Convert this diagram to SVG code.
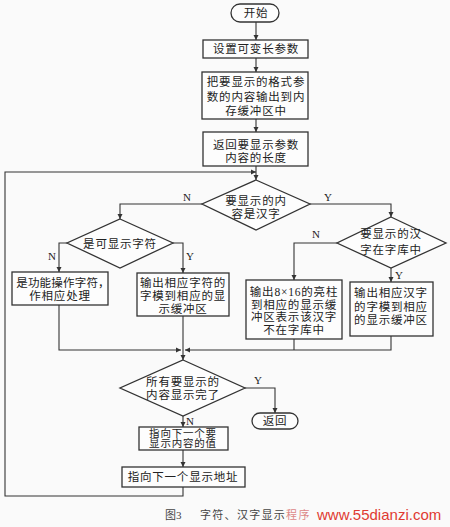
<svg xmlns="http://www.w3.org/2000/svg" width="450" height="527" viewBox="0 0 450 527">
<defs>
<marker id="ah" markerWidth="6" markerHeight="6" refX="5" refY="3" orient="auto" markerUnits="userSpaceOnUse">
<path d="M0,0.5 L5,3 L0,5.5 Z" fill="#333"/>
</marker>
<style>
.s{fill:#fdfdfd;stroke:#333;stroke-width:1.3}
.t{font-family:"Liberation Serif","Noto Sans CJK SC",serif;font-size:11.5px;fill:#222;text-anchor:middle;letter-spacing:0.8px}
.l{font-family:"Liberation Serif",serif;font-size:11px;fill:#222}
.c{fill:none;stroke:#333;stroke-width:1.1}
</style>
</defs>
<rect width="450" height="527" fill="#fafafa"/>
<g id="start"><rect class="s" x="231" y="4" width="48" height="18" rx="9"/><text class="t" x="256" y="17">开始</text></g>
<g id="setparam"><rect class="s" x="203" y="40" width="105" height="18"/><text class="t" x="256" y="53">设置可变长参数</text></g>
<g id="output"><rect class="s" x="202" y="72" width="106" height="47"/><text class="t" x="256" y="86">把要显示的格式参</text><text class="t" x="256" y="101">数的内容输出到内</text><text class="t" x="256" y="115">存缓冲区中</text></g>
<g id="retlen"><rect class="s" x="203" y="132" width="105" height="34"/><text class="t" x="256" y="149">返回要显示参数</text><text class="t" x="256" y="162">内容的长度</text></g>
<g id="d1"><polygon class="s" points="256,180 310,204 256,230 202,204"/><text class="t" x="256" y="205">要显示的内</text><text class="t" x="256" y="218">容是汉字</text></g>
<g id="d2"><polygon class="s" points="120,219 173,243 120,268 67,243"/><text class="t" x="120" y="248">是可显示字符</text></g>
<g id="d3"><polygon class="s" points="391,217 446,243 391,268 337,243"/><text class="t" x="391" y="238">要显示的汉</text><text class="t" x="391" y="254">字在字库中</text></g>
<g id="func"><rect class="s" x="12" y="272" width="96" height="33"/><text class="t" x="63" y="287" style="letter-spacing:0.2px">是功能操作字符，</text><text class="t" x="60" y="300">作相应处理</text></g>
<g id="charout"><rect class="s" x="137" y="273" width="92" height="43"/><text class="t" x="183" y="287">输出相应字符的</text><text class="t" x="183" y="300">字模到相应的显</text><text class="t" x="183" y="313">示缓冲区</text></g>
<g id="bar"><rect class="s" x="246" y="280" width="96" height="59"/><text class="t" x="294" y="296">输出8×16的亮柱</text><text class="t" x="294" y="309">到相应的显示缓</text><text class="t" x="294" y="321">冲区表示该汉字</text><text class="t" x="294" y="334">不在字库中</text></g>
<g id="hzout"><rect class="s" x="350" y="282" width="83" height="54"/><text class="t" x="391" y="297">输出相应汉字</text><text class="t" x="391" y="311">的字模到相应</text><text class="t" x="391" y="324">的显示缓冲区</text></g>
<g id="d4"><polygon class="s" points="183,360 245,388 183,416 120,388"/><text class="t" x="183" y="386">所有要显示的</text><text class="t" x="183" y="399">内容显示完了</text></g>
<g id="ret"><rect class="s" x="252" y="413" width="46" height="16" rx="8"/><text class="t" x="275" y="425">返回</text></g>
<g id="nextval"><rect class="s" x="139" y="427" width="89" height="23"/><text class="t" x="183" y="437" style="font-size:10.5px">指向下一个要</text><text class="t" x="183" y="447" style="font-size:10.5px">显示内容的值</text></g>
<g id="nextaddr"><rect class="s" x="122" y="467" width="123" height="20"/><text class="t" x="183" y="481">指向下一个显示地址</text></g>
<g id="connectors">
<path class="c" d="M256,22 V40" marker-end="url(#ah)"/>
<path class="c" d="M256,58 V72" marker-end="url(#ah)"/>
<path class="c" d="M256,119 V132" marker-end="url(#ah)"/>
<path class="c" d="M256,166 V180" marker-end="url(#ah)"/>
<path class="c" d="M202,204 H120 V219" marker-end="url(#ah)"/>
<path class="c" d="M310,204 H391 V217" marker-end="url(#ah)"/>
<path class="c" d="M67,243 H59 V272" marker-end="url(#ah)"/>
<path class="c" d="M173,243 H183 V273" marker-end="url(#ah)"/>
<path class="c" d="M337,243 H294 V280" marker-end="url(#ah)"/>
<path class="c" d="M391,268 V282" marker-end="url(#ah)"/>
<path class="c" d="M59,305 V350 H181" marker-end="url(#ah)"/>
<path class="c" d="M294,339 V350"/>
<path class="c" d="M391,336 V350 H185" marker-end="url(#ah)"/>
<path class="c" d="M183,316 V360" marker-end="url(#ah)"/>
<path class="c" d="M245,388 H275 V413" marker-end="url(#ah)"/>
<path class="c" d="M183,416 V427" marker-end="url(#ah)"/>
<path class="c" d="M183,450 V467" marker-end="url(#ah)"/>
<path class="c" d="M183,487 V496 H5 V172 H256" marker-end="url(#ah)"/>
<text class="l" x="183" y="201">N</text>
<text class="l" x="324" y="201">Y</text>
<text class="l" x="48" y="260">N</text>
<text class="l" x="186" y="260">Y</text>
<text class="l" x="312" y="238">N</text>
<text class="l" x="395" y="279">Y</text>
<text class="l" x="254" y="384">Y</text>
<text class="l" x="186" y="425">N</text>
</g>
<g id="caption">
<text x="165" y="519" style="font-family:'Liberation Serif','Noto Sans CJK SC',serif;font-size:11px;fill:#444">图3</text>
<text x="200" y="519" style="font-family:'Liberation Serif','Noto Sans CJK SC',serif;font-size:11px;fill:#444;letter-spacing:1.3px">字符、汉字显示<tspan fill="#d88">程序</tspan></text>
<text x="317" y="520" style="font-family:'Liberation Sans',sans-serif;font-size:15px;fill:#e03a32">www.55dianzi.com</text>
</g>
</svg>
